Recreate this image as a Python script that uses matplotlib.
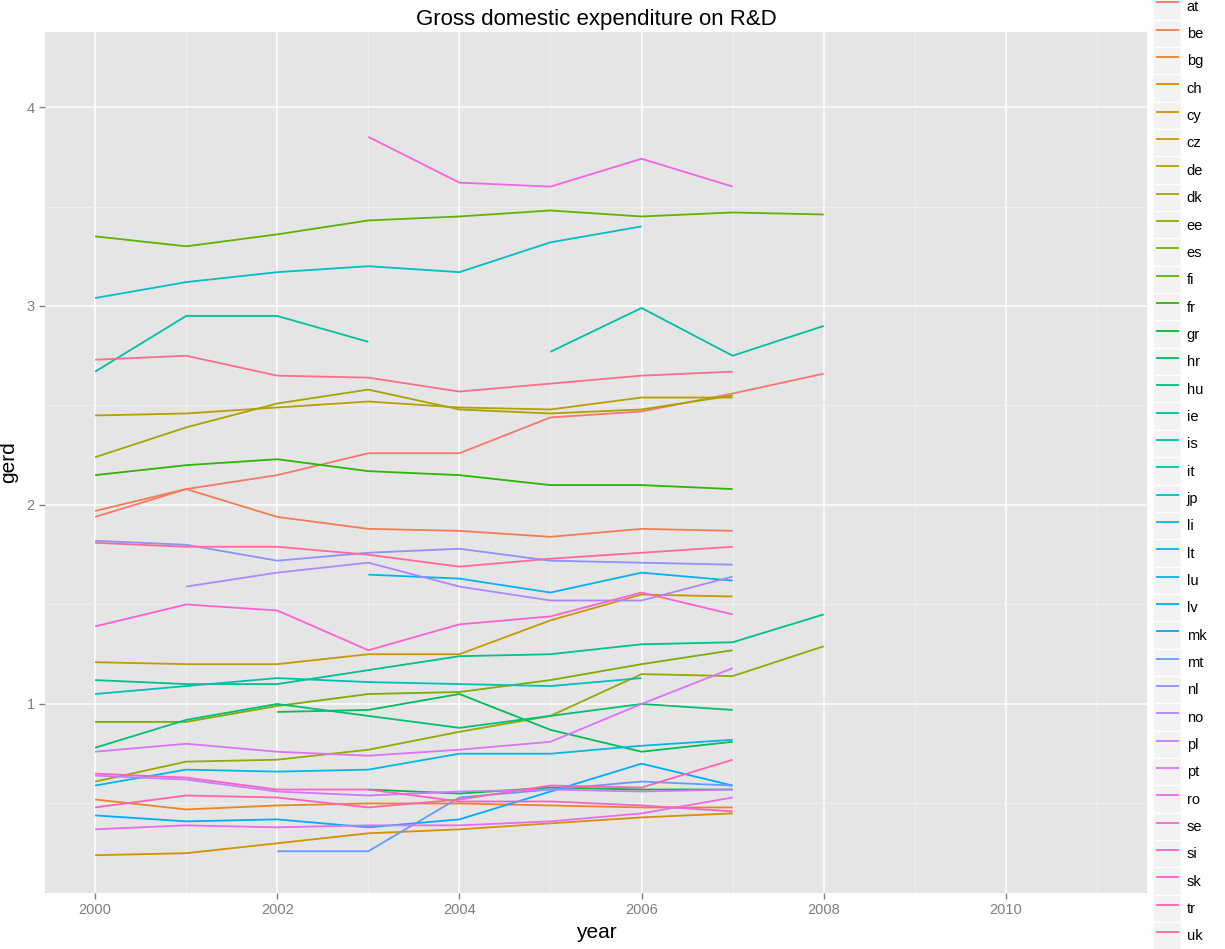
import numpy as np
import matplotlib
matplotlib.use('Agg')
import matplotlib.pyplot as plt
from matplotlib.lines import Line2D
from matplotlib.patches import Rectangle
from matplotlib.legend_handler import HandlerLine2D
from matplotlib.ticker import MultipleLocator

plt.rcParams['font.family'] = ['Liberation Sans', 'DejaVu Sans']

nan = np.nan
years = [2000, 2001, 2002, 2003, 2004, 2005, 2006, 2007, 2008]

# GERD (% of GDP) per country
at = [1.94, 2.08, 2.15, 2.26, 2.26, 2.44, 2.47, 2.56, 2.66]
be = [1.97, 2.08, 1.94, 1.88, 1.87, 1.84, 1.88, 1.87, nan]
bg = [0.52, 0.47, 0.49, 0.50, 0.50, 0.49, 0.48, 0.48, nan]
ch = [nan, nan, nan, nan, nan, nan, nan, nan, nan]
cy = [0.24, 0.25, 0.30, 0.35, 0.37, 0.40, 0.43, 0.45, nan]
cz = [1.21, 1.20, 1.20, 1.25, 1.25, 1.42, 1.55, 1.54, nan]
de = [2.45, 2.46, 2.49, 2.52, 2.49, 2.48, 2.54, 2.54, nan]
dk = [2.24, 2.39, 2.51, 2.58, 2.48, 2.46, 2.48, 2.55, nan]
ee = [0.61, 0.71, 0.72, 0.77, 0.86, 0.94, 1.15, 1.14, 1.29]
es = [0.91, 0.91, 0.99, 1.05, 1.06, 1.12, 1.20, 1.27, nan]
fi = [3.35, 3.30, 3.36, 3.43, 3.45, 3.48, 3.45, 3.47, 3.46]
fr = [2.15, 2.20, 2.23, 2.17, 2.15, 2.10, 2.10, 2.08, nan]
gr = [nan, nan, nan, 0.57, 0.55, 0.58, 0.57, 0.57, nan]
hr = [nan, nan, 0.96, 0.97, 1.05, 0.87, 0.76, 0.81, nan]
hu = [0.78, 0.92, 1.00, 0.94, 0.88, 0.94, 1.00, 0.97, nan]
ie = [1.12, 1.10, 1.10, 1.17, 1.24, 1.25, 1.30, 1.31, 1.45]
is_ = [2.67, 2.95, 2.95, 2.82, nan, 2.77, 2.99, 2.75, 2.90]
it = [1.05, 1.09, 1.13, 1.11, 1.10, 1.09, 1.13, nan, nan]
jp = [3.04, 3.12, 3.17, 3.20, 3.17, 3.32, 3.40, nan, nan]
li = [nan, nan, nan, nan, nan, nan, nan, nan, nan]
lt = [0.59, 0.67, 0.66, 0.67, 0.75, 0.75, 0.79, 0.82, nan]
lu = [nan, nan, nan, 1.65, 1.63, 1.56, 1.66, 1.62, nan]
lv = [0.44, 0.41, 0.42, 0.38, 0.42, 0.56, 0.70, 0.59, nan]
mk = [nan, nan, nan, nan, nan, nan, nan, nan, nan]
mt = [nan, nan, 0.26, 0.26, 0.53, 0.57, 0.61, 0.59, nan]
nl = [1.82, 1.80, 1.72, 1.76, 1.78, 1.72, 1.71, 1.70, nan]
no = [nan, 1.59, 1.66, 1.71, 1.59, 1.52, 1.52, 1.64, nan]
pl = [0.64, 0.62, 0.56, 0.54, 0.56, 0.57, 0.56, 0.57, nan]
pt = [0.76, 0.80, 0.76, 0.74, 0.77, 0.81, 1.00, 1.18, nan]
ro = [0.37, 0.39, 0.38, 0.39, 0.39, 0.41, 0.45, 0.53, nan]
se = [nan, nan, nan, 3.85, 3.62, 3.60, 3.74, 3.60, nan]
si = [1.39, 1.50, 1.47, 1.27, 1.40, 1.44, 1.56, 1.45, nan]
sk = [0.65, 0.63, 0.57, 0.57, 0.51, 0.51, 0.49, 0.46, nan]
tr = [0.48, 0.54, 0.53, 0.48, 0.52, 0.59, 0.58, 0.72, nan]
uk = [1.81, 1.79, 1.79, 1.75, 1.69, 1.73, 1.76, 1.79, nan]
us = [2.73, 2.75, 2.65, 2.64, 2.57, 2.61, 2.65, 2.67, nan]

geo = ['at', 'be', 'bg', 'ch', 'cy', 'cz', 'de', 'dk', 'ee', 'es', 'fi', 'fr',
       'gr', 'hr', 'hu', 'ie', 'is', 'it', 'jp', 'li', 'lt', 'lu', 'lv', 'mk',
       'mt', 'nl', 'no', 'pl', 'pt', 'ro', 'se', 'si', 'sk', 'tr', 'uk', 'us']
series = [at, be, bg, ch, cy, cz, de, dk, ee, es, fi, fr, gr, hr, hu, ie, is_,
          it, jp, li, lt, lu, lv, mk, mt, nl, no, pl, pt, ro, se, si, sk, tr,
          uk, us]
# the legend in the original is taller than the figure; only at..uk show
n_legend = 35


def hcl(h, c=100.0, l=65.0):
    # polar Luv -> sRGB, like R's hcl()
    hr_ = np.deg2rad(h)
    u, v = c * np.cos(hr_), c * np.sin(hr_)
    Xn, Yn, Zn = 95.047, 100.0, 108.883
    un = 4 * Xn / (Xn + 15 * Yn + 3 * Zn)
    vn = 9 * Yn / (Xn + 15 * Yn + 3 * Zn)
    Y = Yn * ((l + 16) / 116) ** 3
    up = u / (13 * l) + un
    vp = v / (13 * l) + vn
    X = Y * 9 * up / (4 * vp)
    Z = Y * (12 - 3 * up - 20 * vp) / (4 * vp)
    xyz = np.array([X, Y, Z]) / 100
    m = np.array([[3.2406, -1.5372, -0.4986],
                  [-0.9689, 1.8758, 0.0415],
                  [0.0557, -0.2040, 1.0570]])
    rgb = m @ xyz
    rgb = np.where(rgb <= 0.0031308, 12.92 * rgb, 1.055 * np.clip(rgb, 0, None) ** (1 / 2.4) - 0.055)
    return tuple(np.clip(rgb, 0, 1))


hues = np.linspace(15, 375, len(geo) + 1)[:-1]
colors = [hcl(h) for h in hues]


class GGKey(HandlerLine2D):
    def create_artists(self, legend, orig_handle, xdescent, ydescent,
                       width, height, fontsize, trans):
        arts = super().create_artists(legend, orig_handle, xdescent, ydescent,
                                      width, height, fontsize, trans)
        bg = Rectangle((-xdescent - 2, -ydescent - 1.2), width + 4, height + 2.4,
                       facecolor='#F2F2F2', edgecolor='white', lw=1.0,
                       transform=trans)
        return [bg] + list(arts)


fig = plt.figure(figsize=(12.25, 9.49), dpi=100)
ax = fig.add_axes([45 / 1225, 56 / 949, 1102 / 1225, 861 / 949])
ax.set_facecolor('#E5E5E5')

handles = []
for name, vals, col in zip(geo, series, colors):
    ln, = ax.plot(years, vals, color=col, lw=1.3, solid_capstyle='butt')
    handles.append(ln)

ax.set_xlim(1999.45, 2011.55)
ax.set_ylim(0.05, 4.377)
ax.xaxis.set_major_locator(MultipleLocator(2))
ax.xaxis.set_minor_locator(MultipleLocator(1))
ax.yaxis.set_major_locator(MultipleLocator(1))
ax.yaxis.set_minor_locator(MultipleLocator(0.5))
ax.grid(which='major', color='white', lw=1.1)
ax.grid(which='minor', color='#F2F2F2', lw=0.6)
ax.set_axisbelow(True)
for s in ax.spines.values():
    s.set_visible(False)
ax.tick_params(which='major', colors='#7F7F7F', labelcolor='#7F7F7F',
               length=4, width=1, labelsize=10.5)
ax.tick_params(which='minor', length=0)

ax.set_xlabel('year', fontsize=15, labelpad=4)
ax.set_ylabel('gerd', fontsize=15, labelpad=6)
ax.set_title('Gross domestic expenditure on R&D', fontsize=16, pad=5)

fig.legend(handles[:n_legend], geo[:n_legend], loc='upper left',
           bbox_to_anchor=(1156 / 1225, 1 + 6 / 949),
           frameon=False, borderpad=0, borderaxespad=0,
           handler_map={Line2D: GGKey()},
           fontsize=10.5, handlelength=1.55, handleheight=2.2,
           labelspacing=0.2, handletextpad=0.55)

fig.savefig('out.png', dpi=100)
